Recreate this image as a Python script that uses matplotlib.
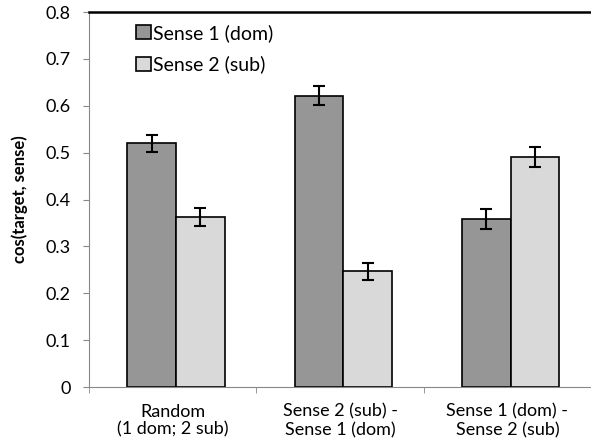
import numpy as np
import matplotlib
matplotlib.use("Agg")
import matplotlib.pyplot as plt

plt.rcParams['font.family'] = ['Lato', 'DejaVu Sans']

# data
categories = ["Random\n(1 dom; 2 sub)", "Sense 2 (sub) -\nSense 1 (dom)", "Sense 1 (dom) -\nSense 2 (sub)"]
sense1_dom = np.array([0.520, 0.622, 0.359])
sense1_err = np.array([0.018, 0.021, 0.021])
sense2_sub = np.array([0.363, 0.247, 0.491])
sense2_err = np.array([0.019, 0.018, 0.022])

x = np.arange(len(categories))
width = 0.29

fig = plt.figure(figsize=(5.91, 4.47), dpi=100)
ax = fig.add_axes([0.1506, 0.134, 0.8494, 0.839])

err_style = dict(ecolor="black", capsize=4.5, elinewidth=1.5, capthick=1.5)
ax.bar(x - width / 2 + 0.02, sense1_dom, width, color="#969696", edgecolor="black",
       linewidth=1.2, label="Sense 1 (dom)", yerr=sense1_err, error_kw=err_style)
ax.bar(x + width / 2 + 0.02, sense2_sub, width, color="#d9d9d9", edgecolor="black",
       linewidth=1.2, label="Sense 2 (sub)", yerr=sense2_err, error_kw=err_style)

ax.set_xlim(-0.5, 2.5)
ax.set_ylim(0, 0.8)
ax.set_yticks(np.arange(0, 0.81, 0.1))
ax.set_yticklabels(["0"] + ["%.1f" % v for v in np.arange(0.1, 0.81, 0.1)])
ax.set_xticks(x)
ax.set_xticklabels(categories, fontsize=13, linespacing=1.15)
ax.set_xticks([-0.5, 0.5, 1.5, 2.5], minor=True)
ax.tick_params(axis="x", which="major", length=0, pad=12)
ax.tick_params(axis="x", which="minor", length=4, color="#888888", direction="out")
ax.tick_params(axis="y", length=4, color="#888888", labelsize=13, pad=9)

ax.spines["right"].set_visible(False)
ax.spines["left"].set_color("#888888")
ax.spines["bottom"].set_color("#888888")
ax.spines["top"].set_color("black")
ax.spines["top"].set_linewidth(1.8)

ax.set_ylabel("cos(target, sense)", fontsize=12, fontweight="bold", labelpad=13)

ax.legend(loc="upper left", bbox_to_anchor=(0.055, 1.02), frameon=False, fontsize=14,
          handlelength=0.75, handleheight=0.75, handletextpad=0.1, labelspacing=0.7,
          borderaxespad=0.6)

fig.savefig("out.png", dpi=100)
